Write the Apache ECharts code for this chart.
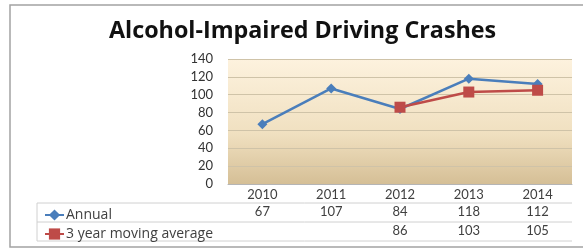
<!DOCTYPE html>
<html><head><meta charset="utf-8">
<script src="https://cdn.jsdelivr.net/npm/echarts@6/dist/echarts.min.js"></script>
<style>html,body{margin:0;padding:0;background:#fff}#c{width:583px;height:249px}</style>
</head><body><div id="c"></div>
<script>
const title = 'Alcohol-Impaired Driving Crashes';
const years = ['2010','2011','2012','2013','2014'];
const annual = [67,107,84,118,112];
const movingAvg = [null,null,86,103,105];
const seriesNames = ['Annual','3 year moving average'];
const yTicks = {min:0,max:140,interval:20};

const chart = echarts.init(document.getElementById('c'));
const font = 'Lato, "Open Sans", sans-serif';
const rowLabel = arr => arr.map(v => v == null ? '' : String(v));
const tableText = {color:'#404040',fontSize:13,fontFamily:font};
chart.setOption({
  animation:false,
  title:{text:title,left:104,top:15,textStyle:{fontFamily:'"Open Sans", sans-serif',fontWeight:'bold',fontSize:23.3,color:'#111'}},
  grid:{left:228,right:11,top:59,bottom:65,show:true,borderWidth:0,
    backgroundColor:{type:'linear',x:0,y:0,x2:0,y2:1,colorStops:[{offset:0,color:'#fdf2de'},{offset:0.6,color:'#f0e0c0'},{offset:1,color:'#d5bf96'}]}},
  legend:{orient:'vertical',left:39,top:203,itemGap:5,itemWidth:19,itemHeight:14,
    textStyle:{color:'#404040',fontSize:14,fontFamily:'"Open Sans", sans-serif',padding:[0,0,0,-3]},data:seriesNames},
  xAxis:[
    {type:'category',data:years,position:'bottom',boundaryGap:true,
     axisLine:{lineStyle:{color:'#b5b5b5'}},axisTick:{length:57,lineStyle:{color:'#d0d0d0'}},
     axisLabel:{...tableText,margin:4}},
    {type:'category',data:rowLabel(annual),position:'bottom',offset:19,gridIndex:0,
     axisLine:{show:false},axisTick:{show:false},axisLabel:{...tableText,margin:2}},
    {type:'category',data:rowLabel(movingAvg),position:'bottom',offset:38,gridIndex:0,
     axisLine:{show:false},axisTick:{show:false},axisLabel:{...tableText,margin:2}}
  ],
  yAxis:{type:'value',min:yTicks.min,max:yTicks.max,interval:yTicks.interval,
    axisLine:{show:false},axisTick:{show:false},
    splitLine:{lineStyle:{color:'#cfc3a8',width:1}},
    axisLabel:{color:'#333',fontSize:13,fontFamily:font,margin:15}},
  graphic:[
    {type:'rect',shape:{x:10,y:5,width:620,height:242},style:{fill:'none',stroke:'#a3a3a3',lineWidth:1.5},z:-1},
    {type:'line',shape:{x1:37,y1:203,x2:572,y2:203},style:{stroke:'#d0d0d0',lineWidth:1}},
    {type:'line',shape:{x1:37,y1:222,x2:572,y2:222},style:{stroke:'#d0d0d0',lineWidth:1}},
    {type:'line',shape:{x1:37,y1:241,x2:572,y2:241},style:{stroke:'#d0d0d0',lineWidth:1}},
    {type:'line',shape:{x1:37,y1:203,x2:37,y2:241},style:{stroke:'#d0d0d0',lineWidth:1}}
  ],
  series:[
    {name:seriesNames[0],type:'line',data:annual,symbol:'diamond',symbolSize:10,
     lineStyle:{color:'#4a7ebb',width:2.5},itemStyle:{color:'#4a7ebb'},z:2},
    {name:seriesNames[1],type:'line',data:movingAvg,symbol:'rect',symbolSize:11,
     lineStyle:{color:'#be4b48',width:2.5},itemStyle:{color:'#be4b48'},z:3}
  ]
});
</script></body></html>
